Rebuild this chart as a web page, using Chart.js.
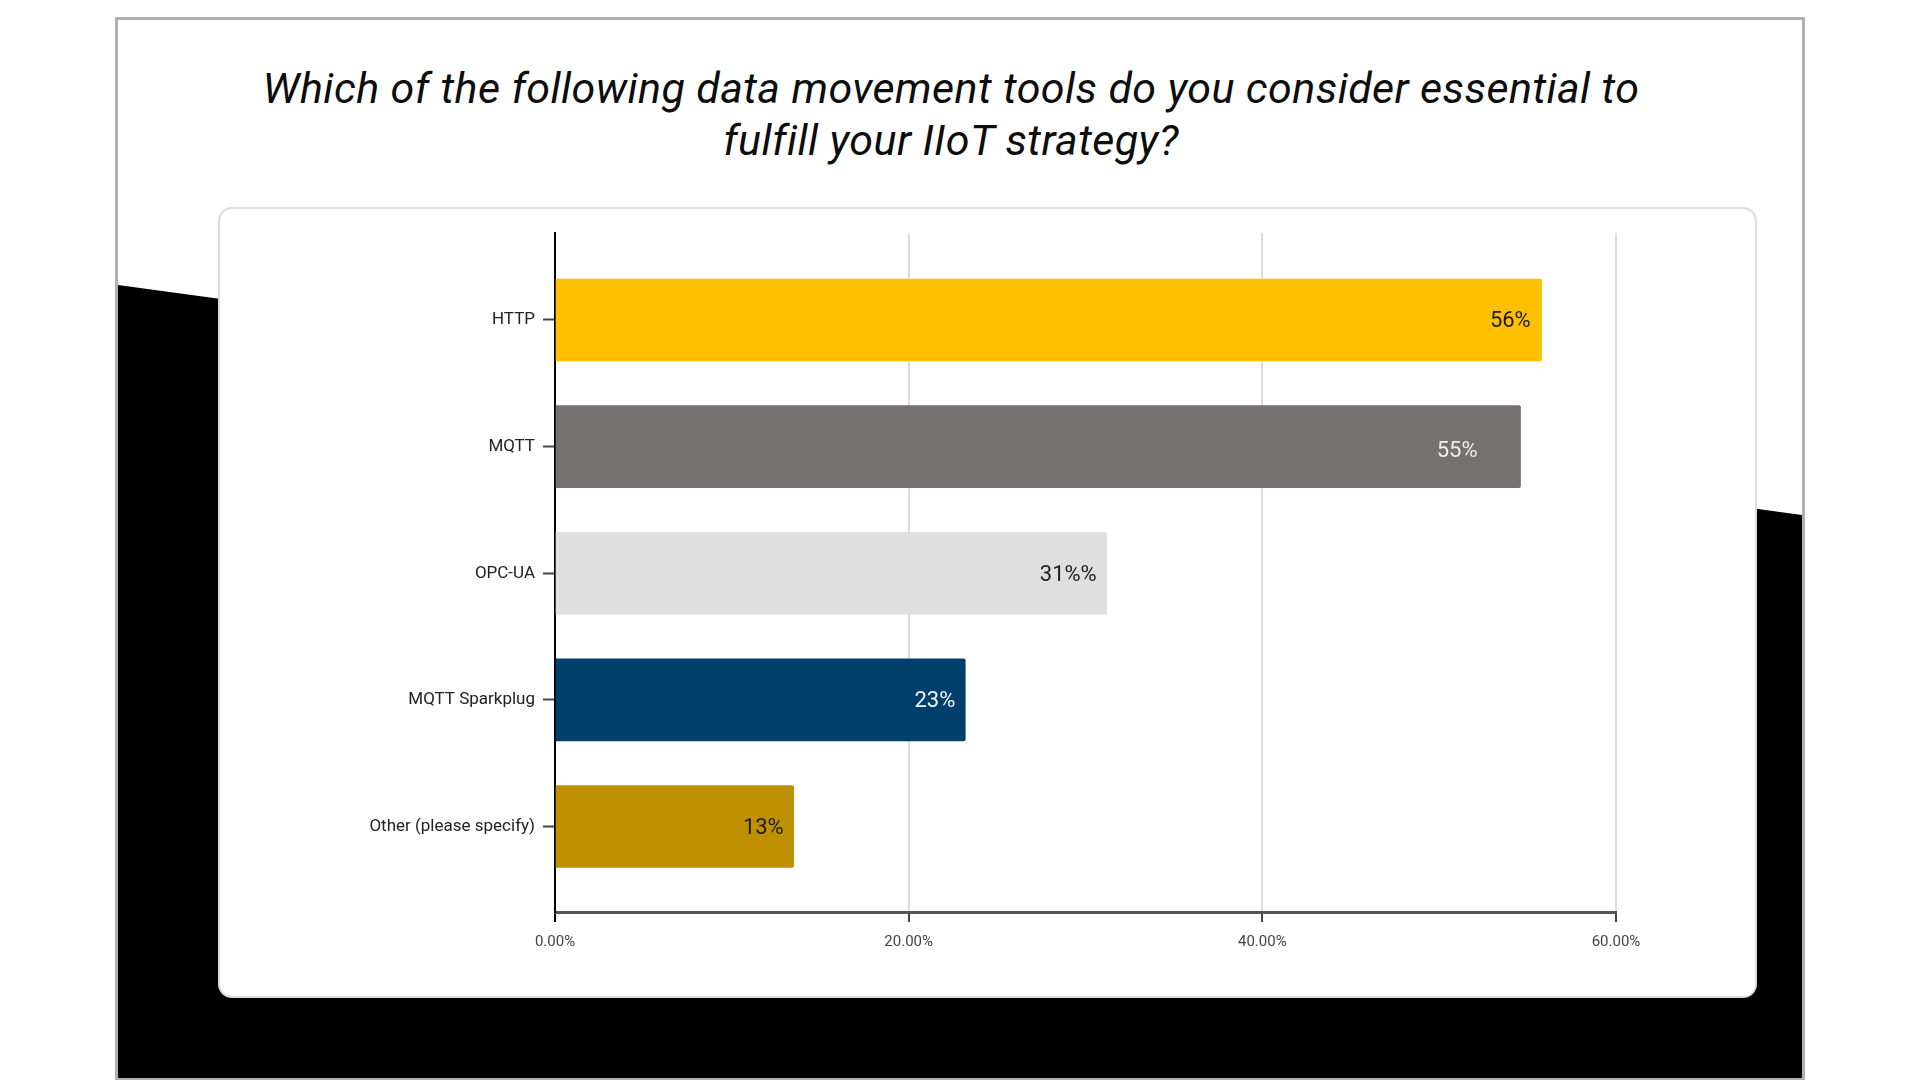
<!DOCTYPE html>
<html lang="en">
<head>
    <meta charset="UTF-8">
    <title>IIoT data movement tools</title>
    <script src="https://cdn.jsdelivr.net/npm/chart.js"></script>
    <style>
        html, body { margin: 0; padding: 0; background: #fff; }
        body { width: 1920px; height: 1080px; position: relative; overflow: hidden; font-family: Roboto, sans-serif; }
        .frame { position: absolute; left: 115px; top: 17px; width: 1684px; height: 1058px; border: 3px solid #b0b0b0; }
        .shade { position: absolute; left: 118px; top: 20px; width: 1684px; height: 1058px; background: #000;
                 clip-path: polygon(0 265px, 100% 495px, 100% 100%, 0 100%); }
        .title { position: absolute; left: 116px; width: 1670px; top: 62px; text-align: center;
                 font: italic 43px/52px Roboto, sans-serif; letter-spacing: 0.4px; color: #0d0d0d; }
        .card { position: absolute; left: 218px; top: 207px; width: 1535px; height: 787px; background: #fff;
                border: 2px solid #dcdcdc; border-radius: 14px; }
        .chart-box { position: absolute; left: 218px; top: 208px; width: 1539px; height: 790px; }
    </style>
</head>
<body>
    <div class="frame"></div>
    <div class="shade"></div>
    <div class="title">Which of the following data movement tools do you consider essential to<br>fulfill your IIoT strategy?</div>
    <div class="card"></div>
    <div class="chart-box"><canvas id="grafico"></canvas></div>

    <script>
    const categories = ['HTTP', 'MQTT', 'OPC-UA', 'MQTT Sparkplug', 'Other (please specify)'];
    const shares = [55.8, 54.6, 31.2, 23.2, 13.5];
    const shareLabels = ['56%', '55%', '31%%', '23%', '13%'];
    const xTicks = [0, 20, 40, 60];

    const barColors = ['#FFC000', '#767171', '#DFDFDF', '#003E6C', '#BF9000'];
    const labelColors = ['#1c1c1c', '#ececec', '#222222', '#f2f4f8', '#1c1c1c'];
    const labelInset = [11, 43, 10, 10, 10];
    const labelShift = [2, 5, 2, 2, 2];

    // value labels drawn at the right end of each bar
    const barLabels = {
        id: 'barLabels',
        afterDatasetsDraw(chart) {
            const ctx = chart.ctx;
            const bars = chart.getDatasetMeta(0).data;
            ctx.save();
            ctx.font = '22px Roboto';
            ctx.textAlign = 'right';
            ctx.textBaseline = 'middle';
            bars.forEach((bar, i) => {
                ctx.fillStyle = labelColors[i];
                ctx.fillText(shareLabels[i], bar.x - labelInset[i], bar.y + labelShift[i]);
            });
            ctx.restore();
        }
    };

    const ctx = document.getElementById('grafico').getContext('2d');
    const chart = new Chart(ctx, {
        type: 'bar',
        data: {
            datasets: [{
                data: categories.map((c, i) => ({ x: shares[i], y: i })),
                backgroundColor: barColors,
                borderRadius: 2,
                borderSkipped: 'start',
                barThickness: 82
            }]
        },
        options: {
            indexAxis: 'y',
            responsive: true,
            maintainAspectRatio: false,
            devicePixelRatio: 1,
            animation: false,
            layout: { padding: { top: 25, right: 141, left: 0, bottom: 0 } },
            plugins: {
                legend: { display: false },
                tooltip: { enabled: false }
            },
            scales: {
                x: {
                    type: 'linear',
                    min: 0,
                    max: 60,
                    afterFit: s => { s.height = 86; },
                    afterBuildTicks: s => { s.ticks = xTicks.map(v => ({ value: v })); },
                    ticks: {
                        callback: v => v.toFixed(2) + '%',
                        color: '#444',
                        font: { family: 'Roboto', size: 15 },
                        padding: 11
                    },
                    grid: {
                        color: c => c.index === 0 ? 'rgba(0,0,0,0)' : '#dcdcdc',
                        lineWidth: 2,
                        tickLength: 10,
                        tickColor: c => c.index === 0 ? '#000' : '#444',
                        tickWidth: 2
                    },
                    border: { color: '#555', width: 3 }
                },
                y: {
                    type: 'linear',
                    reverse: true,
                    offset: false,
                    min: -0.687,
                    max: 4.675,
                    afterFit: s => { s.width = 337; },
                    ticks: {
                        stepSize: 1,
                        includeBounds: false,
                        callback: v => categories[v] ?? '',
                        color: '#222',
                        font: { family: 'Roboto', size: 17 },
                        padding: 8
                    },
                    grid: {
                        offset: false,
                        drawOnChartArea: false,
                        tickLength: 12,
                        tickColor: '#444',
                        tickWidth: 2
                    },
                    border: { color: '#000', width: 2 }
                }
            }
        },
        plugins: [barLabels]
    });
    </script>
</body>
</html>
